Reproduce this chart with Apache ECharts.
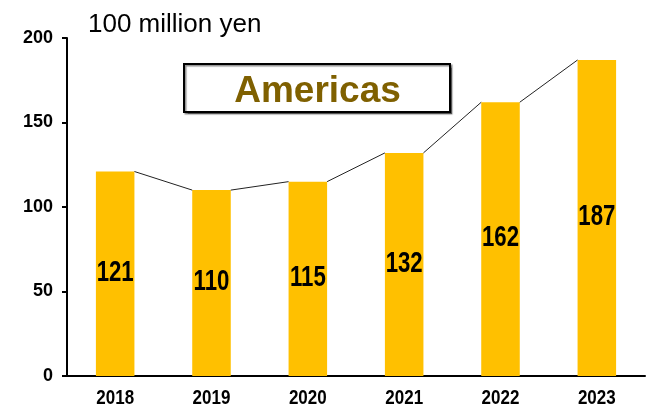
<!DOCTYPE html>
<html>
<head>
<meta charset="utf-8">
<script src="https://cdn.jsdelivr.net/npm/echarts@6/dist/echarts.min.js"></script>
<style>
  html, body { margin: 0; padding: 0; background: #fff; }
  #chart { width: 653px; height: 418px; }
</style>
</head>
<body>
<div id="chart"></div>
<script>
// Annual sales, Americas (unit: 100 million yen)
const years = ['2018', '2019', '2020', '2021', '2022', '2023'];
const sales = [121, 110, 115, 132, 162, 187];
const yTicks = [0, 50, 100, 150, 200];

const barColor = '#FFC000';
const boldFont = '"Liberation Sans", Arial, sans-serif';
const barWidthRatio = 0.4;

// connector segments: each joins the top-right corner of one bar to the top-left of the next
const connectors = [];
for (let i = 0; i < sales.length - 1; i++) {
  connectors.push([i, sales[i], sales[i + 1]]);
}
const valuePoints = sales.map((v, i) => [i, v]);
const yearPoints = years.map((y, i) => [i, 0]);

const chart = echarts.init(document.getElementById('chart'));
chart.setOption({
  animation: false,
  grid: { left: 67, right: 8, top: 38, bottom: 42 },
  xAxis: {
    type: 'category',
    data: years,
    axisLine: { lineStyle: { color: '#000', width: 2 } },
    axisTick: { inside: true, length: 6, lineStyle: { color: '#000', width: 2 } },
    axisLabel: { show: false }
  },
  yAxis: {
    type: 'value',
    min: yTicks[0],
    max: yTicks[yTicks.length - 1],
    interval: 50,
    splitLine: { show: false },
    axisLine: { show: true, lineStyle: { color: '#000', width: 2 } },
    axisTick: { show: true, length: 5, lineStyle: { color: '#000', width: 2 } },
    axisLabel: {
      color: '#000', fontFamily: boldFont, fontWeight: 'bold', fontSize: 18, margin: 14
    }
  },
  series: [
    {
      type: 'bar',
      data: sales,
      barWidth: (barWidthRatio * 100) + '%',
      itemStyle: { color: barColor },
      z: 2
    },
    {
      // connectors between neighbouring bar tops
      type: 'custom',
      data: connectors,
      encode: { x: 0, y: 1 },
      z: 3,
      renderItem: function (params, api) {
        const i = api.value(0);
        const from = api.coord([i, api.value(1)]);
        const to = api.coord([i + 1, api.value(2)]);
        const half = api.size([1, 0])[0] * barWidthRatio / 2;
        return {
          type: 'line',
          shape: { x1: from[0] + half, y1: from[1], x2: to[0] - half, y2: to[1] },
          style: { stroke: '#222', lineWidth: 1 }
        };
      }
    },
    {
      // condensed value labels centred in each bar
      type: 'custom',
      data: valuePoints,
      encode: { x: 0, y: 1 },
      z: 4,
      renderItem: function (params, api) {
        const v = api.value(1);
        const p = api.coord([api.value(0), v / 2]);
        return {
          type: 'text',
          x: p[0],
          y: p[1] - 1,
          scaleX: 0.74,
          style: {
            text: String(v),
            fill: '#000',
            font: 'bold 30px ' + boldFont,
            align: 'center',
            verticalAlign: 'middle'
          }
        };
      }
    },
    {
      // condensed year labels under the category axis
      type: 'custom',
      data: yearPoints,
      encode: { x: 0, y: 1 },
      z: 4,
      clip: false,
      renderItem: function (params, api) {
        const i = api.value(0);
        const p = api.coord([i, 0]);
        return {
          type: 'text',
          x: p[0],
          y: p[1] + 22,
          scaleX: 0.81,
          style: {
            text: years[i],
            fill: '#000',
            font: 'bold 21px ' + boldFont,
            align: 'center',
            verticalAlign: 'middle'
          }
        };
      }
    }
  ],
  graphic: [
    {
      type: 'text',
      x: 88,
      y: 25,
      style: {
        text: '100 million yen',
        fill: '#000',
        font: '26px ' + boldFont,
        verticalAlign: 'middle'
      }
    },
    {
      type: 'rect',
      shape: { x: 184, y: 64, width: 266, height: 48 },
      style: {
        fill: '#fff', stroke: '#000', lineWidth: 2,
        shadowColor: 'rgba(0,0,0,0.45)', shadowOffsetX: 1.5, shadowOffsetY: 1.5, shadowBlur: 1
      },
      z: 10
    },
    {
      type: 'text',
      x: 317.5,
      y: 92,
      style: {
        text: 'Americas',
        fill: '#7F6000',
        font: 'bold 37px ' + boldFont,
        align: 'center',
        verticalAlign: 'middle'
      },
      z: 11
    }
  ]
});
</script>
</body>
</html>
